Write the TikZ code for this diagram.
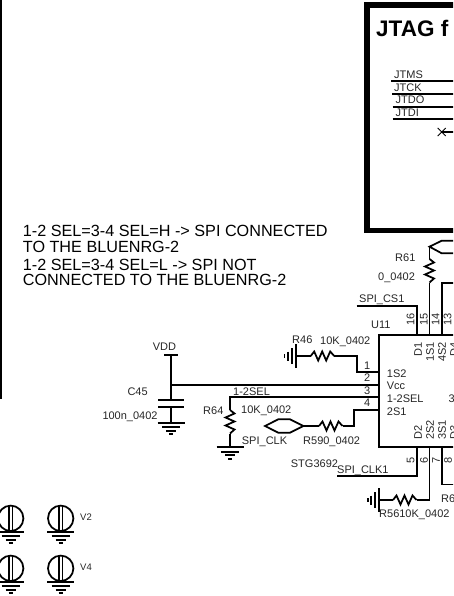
\documentclass[tikz,border=0pt]{standalone}
\usepackage{fontspec}
\setmainfont{Liberation Sans}
\tikzset{
  wire/.style={line width=1.75pt,line join=miter},
  thick frame/.style={line width=5.5pt},
  lbl/.style={inner sep=0pt,anchor=base west,font=\fontsize{11}{13}\selectfont,text=black!85},
  note/.style={inner sep=0pt,anchor=base west,font=\fontsize{16.2}{18}\selectfont},
  title/.style={inner sep=0pt,anchor=base west,font=\bfseries\fontsize{22.5}{26}\selectfont},
  vtop/.style={inner sep=0pt,anchor=east,rotate=90,font=\fontsize{11}{13}\selectfont,text=black!85},
  vbot/.style={inner sep=0pt,anchor=west,rotate=90,font=\fontsize{11}{13}\selectfont,text=black!85},
  vnum/.style={inner sep=0pt,rotate=90,font=\fontsize{11}{13}\selectfont,text=black!85},
  small/.style={inner sep=0pt,anchor=base west,font=\fontsize{9.5}{11}\selectfont,text=black!85},
  pics/reszig/.style={code={\draw[wire] (0,0) -- (3.5,-4.5) -- (7.5,4.5) -- (11.5,-4.5) -- (15.5,4.5) -- (19.5,-4.5) -- (23.5,0);}},
  pics/gnddown/.style={code={
    \draw[wire] (-13.5,0) -- (13.5,0);
    \draw[wire] (-9,4.5) -- (9,4.5);
    \draw[wire] (-5,8) -- (5,8);
    \draw[wire] (-2,11.5) -- (2,11.5);}},
  pics/gndleft/.style={code={
    \draw[wire] (0,-12) -- (0,12);
    \draw[wire] (-4,-8) -- (-4,8);
    \draw[wire] (-8,-4.5) -- (-8,4.5);
    \draw[wire] (-11.5,-2) -- (-11.5,2);}},
  pics/mount/.style={code={
    \draw[wire] (0,0) circle (12.7);
    \draw[line width=1.3pt] (-1.6,-12.7) -- (-1.6,13.4);
    \draw[line width=1.3pt] (1.6,-12.7) -- (1.6,13.4);
    \path (0,13.4) pic {gnddown};}}
}
\begin{document}
\begin{tikzpicture}[x=1pt,y=-1pt]
\useasboundingbox (0,0) rectangle (453,596);
\clip (0,0) rectangle (453,596);
% left frame edge
\draw[line width=2.6pt] (1,0) -- (1,399);
% JTAG frame
\draw[thick frame] (470,4.8) -- (366.8,4.8) -- (366.8,230.5) -- (470,230.5);
\node[title] (jtag) at (376,37) {JTAG f};
\coordinate (jtmsL) at (391,81);   \coordinate (jtmsR) at (460,81);
\coordinate (jtckL) at (392,94);   \coordinate (jtckR) at (460,94);
\coordinate (jtdoL) at (392.5,106.7); \coordinate (jtdoR) at (460,106.7);
\coordinate (jtdiL) at (392.5,119);  \coordinate (jtdiR) at (460,119);
\draw[wire] (jtmsL) -- (jtmsR);
\draw[wire] (jtckL) -- (jtckR);
\draw[wire] (jtdoL) -- (jtdoR);
\draw[wire] (jtdiL) -- (jtdiR);
\node[lbl] (jtms) at (394,79) {JTMS};
\node[lbl] (jtck) at (394,92) {JTCK};
\node[lbl] (jtdo) at (395.5,104) {JTDO};
\node[lbl] (jtdi) at (395.5,116.7) {JTDI};
\coordinate (nc) at (441.7,132);
\draw[wire] (nc) -- (460,132);
\draw[line width=1pt] (437.7,128) -- (445.7,136) (437.7,136) -- (445.7,128);
% Note
\node[note] (n1) at (22.7,236.7) {1-2 SEL=3-4 SEL=H -> SPI CONNECTED};
\node[note] (n2) at (22.7,252.3) {TO THE BLUENRG-2};
\node[note] (n3) at (22.7,270) {1-2 SEL=3-4 SEL=L -> SPI NOT};
\node[note] (n4) at (22.7,285.7) {CONNECTED TO THE BLUENRG-2};
% U11 body
\draw[wire] (470,335) -- (379.3,335) -- (379.3,447.3) -- (470,447.3);
\node[lbl] (u11) at (371,328) {U11};
\coordinate (p16) at (417.3,335); \coordinate (p15) at (429.5,335);
\coordinate (p14) at (441.7,335);
\coordinate (p5) at (417.3,447.3); \coordinate (p6) at (429.5,447.3);
\coordinate (p7) at (441.7,447.3);
\coordinate (p1) at (379.3,372.3); \coordinate (p2) at (379.3,385);
\coordinate (p3) at (379.3,397.3); \coordinate (p4) at (379.3,409.7);
% inner labels
\node[lbl] (s1s2) at (386.7,377.7) {1S2};
\node[lbl] (svcc) at (386.7,389.3) {Vcc};
\node[lbl] (ssel) at (386.7,402.7) {1-2SEL};
\node[lbl] (ssa) at (386.7,415) {2S1};
\node[lbl] (s3) at (448.5,402.7) {3};
\node[vtop] (d1) at (418,342) {D1};
\node[vtop] (s1a) at (430,342) {1S1};
\node[vtop] (s4b) at (442,342) {4S2};
\node[vtop] (d4) at (454,342) {D4};
\node[vbot] (d2) at (418,440) {D2};
\node[vbot] (s2b) at (430,440) {2S2};
\node[vbot] (s3a) at (442,440) {3S1};
\node[vbot] (d3) at (454,440) {D3};
% pin numbers
\node[vnum] (n16) at (410.5,319) {16};
\node[vnum] (n15) at (424,319) {15};
\node[vnum] (n14) at (435.7,319) {14};
\node[vnum] (n13) at (447.5,319) {13};
\node[vnum] (n5) at (410.7,460.7) {5};
\node[vnum] (n6) at (424,460.7) {6};
\node[vnum] (n7) at (436,460.7) {7};
\node[vnum] (n8) at (448,460.7) {8};
\node[lbl] (n01) at (364,369.3) {1};
\node[lbl] (n02) at (364,381) {2};
\node[lbl] (n03) at (364,394) {3};
\node[lbl] (n04) at (364,406.7) {4};
% R61 and top right
\coordinate (fork) at (429.5,246.7);
\draw[wire] (460,240.7) -- (441.7,240.7) -- (fork) -- (441.7,253.3) -- (460,253.3);
\draw[wire] (fork) -- (429.5,259);
\path (429.5,259) pic[rotate=-90] {reszig};
\draw[wire] (429.5,282.5) -- (p15);
\node[lbl] (r61) at (395,261.7) {R61};
\node[lbl] (r61v) at (378,280) {0\_0402};
\draw[wire] (p14) -- (441.7,283.3) -- (460,283.3);
% SPI_CS1
\coordinate (cs) at (356.7,306);
\draw[wire] (cs) -| (p16);
\node[lbl] (spics) at (359,302.7) {SPI\_CS1};
% pin 1 / R46
\coordinate (g46) at (296,356);
\path (g46) pic {gndleft};
\draw[wire] (g46) -- (310.7,356);
\path (310.7,356) pic {reszig};
\draw[wire] (334.2,356) -- (356.7,356) -- (356.7,372.3) -- (p1);
\node[lbl] (r46) at (292,343) {R46};
\node[lbl] (r46v) at (320,344.3) {10K\_0402};
% VDD, C45, pin 2
\coordinate (vdd) at (171,355);
\coordinate (c1) at (171,400);
\coordinate (c2) at (171,407.3);
\coordinate (cg) at (171,422.7);
\draw[wire] (164,355) -- (178,355);
\draw[wire] (vdd) -- (c1);
\draw[wire] (158,400) -- (184,400);
\draw[wire] (158,407.3) -- (184,407.3);
\draw[wire] (c2) -- (cg);
\path (cg) pic {gnddown};
\draw[wire] (171,385) -- (p2);
\node[lbl] (vddl) at (152.7,350) {VDD};
\node[lbl] (c45) at (127.3,395) {C45};
\node[lbl] (c45v) at (102.3,419) {100n\_0402};
% pin 3 / R64
\coordinate (r64t) at (230,410);
\draw[wire] (p3) -- (230,397.3) -- (r64t);
\path (r64t) pic[rotate=-90] {reszig};
\draw[wire] (230,433.5) -- (230,447.3);
\path (230,447.3) pic {gnddown};
\node[lbl] (sel) at (233,395) {1-2SEL};
\node[lbl] (r64) at (203,414) {R64};
\node[lbl] (r64v) at (241,413.7) {10K\_0402};
% pin 4 / R590 / SPI_CLK port
\draw[wire] (303.3,426) -- (290,419.3) -- (278.3,419.3) -- (265,426) -- (278.3,432.7) -- (290,432.7) -- cycle;
\draw[wire] (303.3,426) -- (319,426);
\path (319,426) pic {reszig};
\draw[wire] (342.5,426) -- (354.3,426) -- (354.3,409.7) -- (p4);
\node[lbl] (clk) at (241.7,444) {SPI\_CLK};
\node[lbl] (r590) at (303,444) {R590\_0402};
\node[lbl] (stg) at (290.7,467.7) {STG3692};
% bottom pins
\coordinate (clk1) at (337,475.7);
\draw[wire] (p5) |- (clk1);
\node[lbl] (clk1l) at (337,473) {SPI\_CLK1};
\coordinate (g56) at (379.3,500);
\path (g56) pic {gndleft};
\draw[wire] (g56) -- (393,500);
\path (393,500) pic {reszig};
\draw[wire] (416.5,500) -- (429.5,500) -- (p6);
\node[lbl] (r56) at (379,517) {R5610K\_0402};
\draw[wire] (p7) -- (441.7,484.5) -- (460,484.5);
\node[lbl] (r6x) at (441,502.7) {R6};
% mounting symbols
\path (10.7,518.3) pic {mount};
\path (60.7,518.3) pic {mount};
\path (10.7,568.3) pic {mount};
\path (60.7,568.3) pic {mount};
\node[small] (v2) at (80,520.7) {V2};
\node[small] (v4) at (80,570.7) {V4};
\end{tikzpicture}
\end{document}
